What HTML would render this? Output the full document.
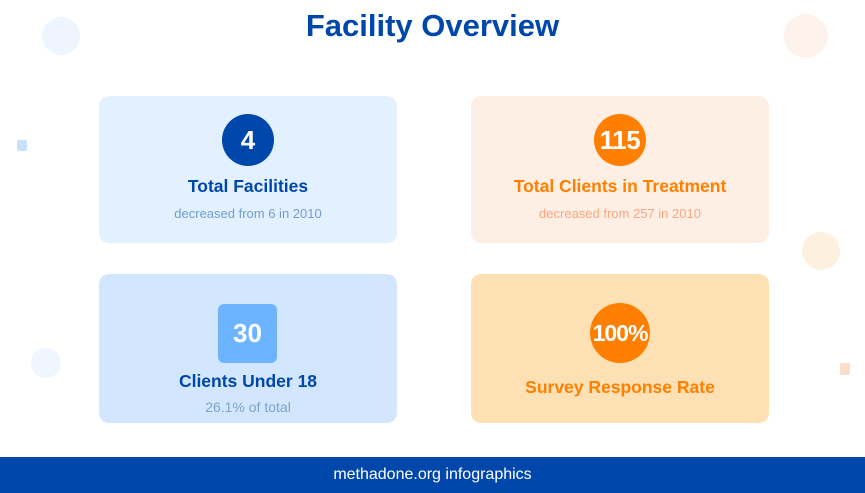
<!DOCTYPE html>
<html><head><meta charset="utf-8"><style>
*{margin:0;padding:0;box-sizing:border-box}
body{width:865px;height:493px;position:relative;background:#fff;font-family:"Liberation Sans",Arial,sans-serif;overflow:hidden}
.abs{position:absolute}
.card{position:absolute;width:298px;border-radius:10px;text-align:center}
.badge{position:absolute;display:flex;align-items:center;justify-content:center;color:#fff;font-weight:bold}
.t{position:absolute;left:0;right:0;font-weight:bold;font-size:17.5px}
.s{position:absolute;left:0;right:0;font-size:13px}
</style></head><body>
<div class="abs" style="left:42px;top:17px;width:38px;height:38px;border-radius:50%;background:#EEF5FF"></div>
<div class="abs" style="left:784px;top:14px;width:44px;height:44px;border-radius:50%;background:#FEF3EC"></div>
<div class="abs" style="left:802px;top:232px;width:38px;height:38px;border-radius:50%;background:#FEF0DE"></div>
<div class="abs" style="left:31px;top:348px;width:30px;height:30px;border-radius:50%;background:#EFF6FF"></div>
<div class="abs" style="left:17px;top:140px;width:10px;height:11px;border-radius:2px;background:#C8E0FB"></div>
<div class="abs" style="left:840px;top:363px;width:10px;height:12px;border-radius:2px;background:#FCDCCB"></div>

<div class="abs" style="left:0;right:0;top:8px;text-align:center;font-size:31px;font-weight:bold;color:#0047AB">Facility Overview</div>

<div class="card" style="left:99px;top:96px;height:147px;background:#E3F0FF">
 <div class="badge" style="left:123px;top:18px;width:52px;height:52px;border-radius:50%;background:#0047AB;font-size:26px">4</div>
 <div class="t" style="top:80px;color:#0047AB">Total Facilities</div>
 <div class="s" style="top:110px;color:#6F9FD0">decreased from 6 in 2010</div>
</div>

<div class="card" style="left:471px;top:96px;height:147px;background:#FEEFE4">
 <div class="badge" style="left:123px;top:18px;width:52px;height:52px;border-radius:50%;background:#FF7F00;font-size:26px;letter-spacing:-0.5px">115</div>
 <div class="t" style="top:80px;color:#FF7F00">Total Clients in Treatment</div>
 <div class="s" style="top:110px;color:#F9A57F">decreased from 257 in 2010</div>
</div>

<div class="card" style="left:99px;top:274px;height:149px;background:#D2E6FD">
 <div class="badge" style="left:119px;top:30px;width:59px;height:59px;border-radius:6px;background:#6CB4FF;font-size:26px">30</div>
 <div class="t" style="top:97px;color:#0047AB">Clients Under 18</div>
 <div class="s" style="top:125px;font-size:14px;color:#7FA3CC">26.1% of total</div>
</div>

<div class="card" style="left:471px;top:274px;height:149px;background:#FDE1B4">
 <div class="badge" style="left:119px;top:29px;width:60px;height:60px;border-radius:50%;background:#FF7F00;font-size:23px;letter-spacing:-1px">100%</div>
 <div class="t" style="top:103px;color:#FF7F00">Survey Response Rate</div>
</div>

<div class="abs" style="left:0;top:457px;width:865px;height:36px;background:#0047AB;color:#fff;font-size:16px;text-align:center;line-height:36px">methadone.org infographics</div>
</body></html>
